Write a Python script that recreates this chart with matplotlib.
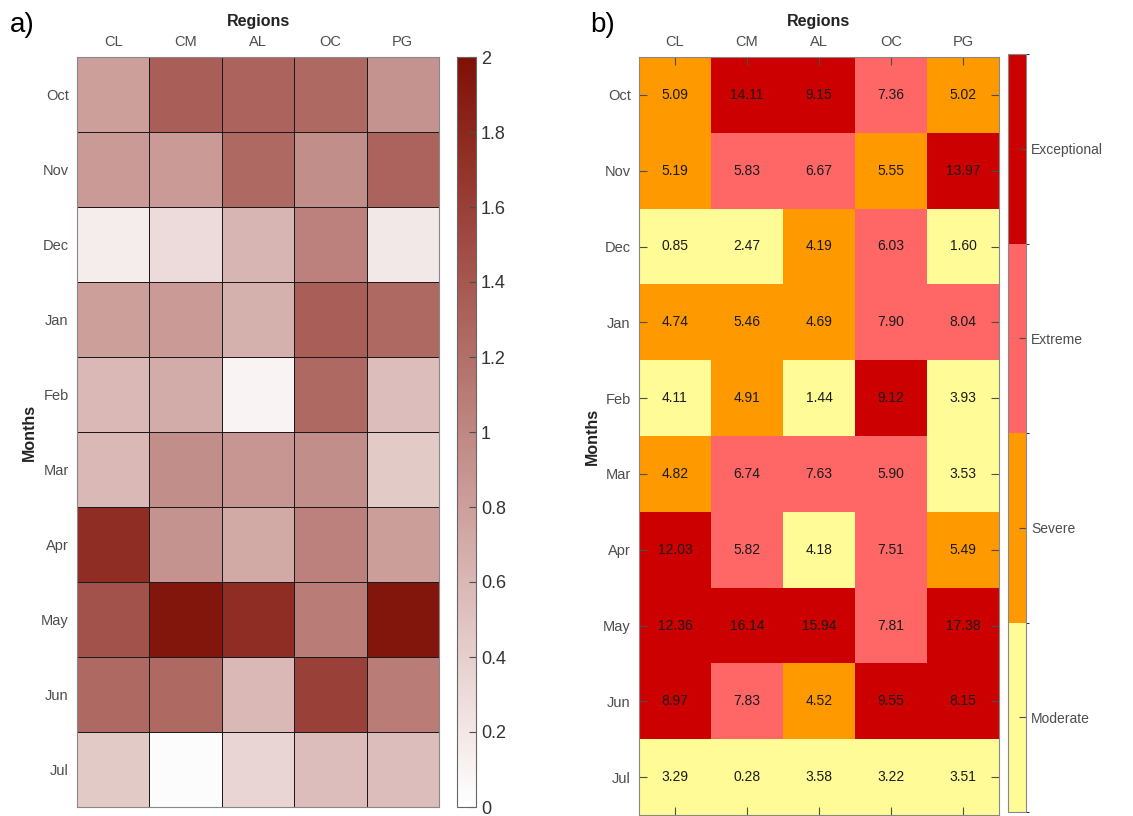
import matplotlib
matplotlib.use("Agg")
import matplotlib.pyplot as plt
import numpy as np
from matplotlib.colors import LinearSegmentedColormap, ListedColormap, BoundaryNorm

plt.rcParams['font.family'] = ['Liberation Sans', 'DejaVu Sans']

regions = ["CL", "CM", "AL", "OC", "PG"]
months = ["Oct", "Nov", "Dec", "Jan", "Feb", "Mar", "Apr", "May", "Jun", "Jul"]

# panel a) values (read from colour scale 0-2)
ratio = [
    [0.80, 1.35, 1.30, 1.25, 0.90],
    [0.85, 0.85, 1.25, 0.95, 1.30],
    [0.15, 0.30, 0.62, 1.05, 0.20],
    [0.80, 0.85, 0.65, 1.35, 1.25],
    [0.60, 0.70, 0.10, 1.25, 0.55],
    [0.60, 0.95, 0.88, 0.95, 0.45],
    [1.75, 0.90, 0.72, 1.05, 0.82],
    [1.45, 1.95, 1.75, 1.10, 1.95],
    [1.25, 1.25, 0.60, 1.60, 1.10],
    [0.45, 0.03, 0.35, 0.55, 0.55],
]

# panel b) values and drought category (0 Moderate .. 3 Exceptional)
values = [
    [5.09, 14.11, 9.15, 7.36, 5.02],
    [5.19, 5.83, 6.67, 5.55, 13.97],
    [0.85, 2.47, 4.19, 6.03, 1.60],
    [4.74, 5.46, 4.69, 7.90, 8.04],
    [4.11, 4.91, 1.44, 9.12, 3.93],
    [4.82, 6.74, 7.63, 5.90, 3.53],
    [12.03, 5.82, 4.18, 7.51, 5.49],
    [12.36, 16.14, 15.94, 7.81, 17.38],
    [8.97, 7.83, 4.52, 9.55, 8.15],
    [3.29, 0.28, 3.58, 3.22, 3.51],
]
category = [
    [1, 3, 3, 2, 1],
    [1, 2, 2, 1, 3],
    [0, 0, 1, 2, 0],
    [1, 1, 1, 2, 2],
    [0, 1, 0, 3, 0],
    [1, 2, 2, 2, 0],
    [3, 2, 0, 2, 1],
    [3, 3, 3, 2, 3],
    [3, 2, 1, 3, 3],
    [0, 0, 0, 0, 0],
]
cat_labels = ["Moderate", "Severe", "Extreme", "Exceptional"]
cat_colors = ["#FFFC98", "#FF9900", "#FF6666", "#CC0000"]

W, H = 1133, 816
fig = plt.figure(figsize=(W / 100, H / 100), dpi=100)

def box(x0, y0, x1, y1):
    return [x0 / W, 1 - y1 / H, (x1 - x0) / W, (y1 - y0) / H]

ax1 = fig.add_axes(box(77, 57, 439, 807))
cax1 = fig.add_axes(box(457, 57, 476, 807))
ax2 = fig.add_axes(box(639, 57, 999, 815))
cax2 = fig.add_axes(box(1008, 54, 1026, 812))

grey = "#4d4d4d"

######## a) ########
cmap_a = LinearSegmentedColormap.from_list("reds", ["#ffffff", "#7f1006"])
m1 = ax1.pcolormesh(np.array(ratio), cmap=cmap_a, vmin=0, vmax=2,
                    edgecolors="#1a1a1a", linewidth=0.7)
ax1.set_xlim(0, 5)
ax1.set_ylim(10, 0)
ax1.set_xticks(np.arange(5) + 0.5)
ax1.set_xticklabels(regions)
ax1.set_yticks(np.arange(10) + 0.5)
ax1.set_yticklabels(months)
ax1.xaxis.tick_top()
ax1.xaxis.set_label_position("top")
ax1.tick_params(length=0, labelsize=10.5, labelcolor=grey, pad=6)
ax1.set_xlabel("Regions", fontsize=11.5, fontweight="bold", labelpad=6, color="#222222")
ax1.set_ylabel("Months", fontsize=11.5, fontweight="bold", labelpad=3, color="#222222")
for s in ax1.spines.values():
    s.set_color("#888888")

cb1 = fig.colorbar(m1, cax=cax1, ticks=np.arange(0, 2.01, 0.2))
cb1.set_ticklabels(["0", "0.2", "0.4", "0.6", "0.8", "1", "1.2", "1.4", "1.6", "1.8", "2"])
cb1.ax.tick_params(direction="in", length=5, labelsize=13, labelcolor="#333333", color=grey)
cb1.outline.set_edgecolor("#666666")

######## b) ########
cmap_b = ListedColormap(cat_colors)
norm_b = BoundaryNorm([-0.5, 0.5, 1.5, 2.5, 3.5], cmap_b.N)
m2 = ax2.pcolormesh(np.array(category), cmap=cmap_b, norm=norm_b)
ax2.set_xlim(0, 5)
ax2.set_ylim(10, 0)
ax2.set_xticks(np.arange(5) + 0.5)
ax2.set_xticklabels(regions)
ax2.set_yticks(np.arange(10) + 0.5)
ax2.set_yticklabels(months)
ax2.xaxis.tick_top()
ax2.xaxis.set_label_position("top")
ax2.tick_params(direction="in", length=6, color=grey, labelsize=10.5, labelcolor=grey,
                top=True, bottom=True, left=True, right=True, labelbottom=False, pad=6)
ax2.set_xlabel("Regions", fontsize=11.5, fontweight="bold", labelpad=6, color="#222222")
ax2.set_ylabel("Months", fontsize=11.5, fontweight="bold", labelpad=2, color="#222222")
for s in ax2.spines.values():
    s.set_color("#888888")

for i in range(len(months)):
    for j in range(len(regions)):
        ax2.text(j + 0.5, i + 0.5, f"{values[i][j]:.2f}", ha="center", va="center",
                 fontsize=10, color="#1a1a1a")

cb2 = fig.colorbar(m2, cax=cax2, ticks=[0, 1, 2, 3])
cb2.set_ticklabels(cat_labels)
cb2.ax.tick_params(direction="in", length=5, labelsize=10, labelcolor=grey, color=grey)
cb2.outline.set_edgecolor("#888888")

fig.text(10 / W, 1 - 25 / H, "a)", fontsize=20, va="center", ha="left")
fig.text(590 / W, 1 - 25 / H, "b)", fontsize=20, va="center", ha="left")

fig.savefig("out.png", dpi=100)
